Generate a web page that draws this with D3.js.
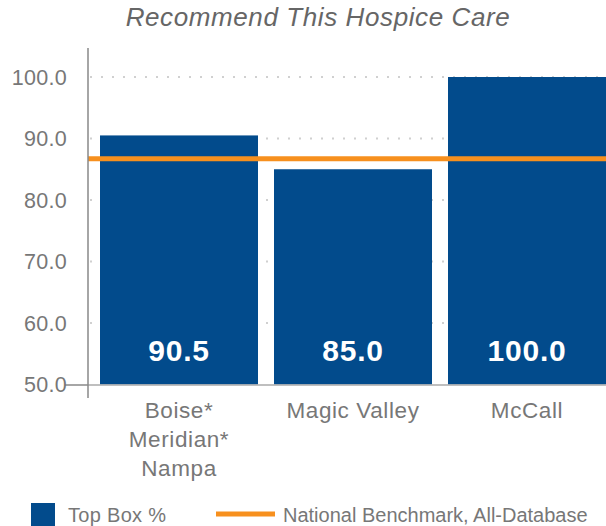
<!DOCTYPE html>
<html>
<head>
<meta charset="utf-8">
<script src="https://cdn.jsdelivr.net/npm/d3@7"></script>
<style>
  body { margin: 0; background: #fff; }
  text { font-family: "Liberation Sans", Arial, sans-serif; }
</style>
</head>
<body>
<script>
"use strict";

// chart data
var categories = [["Boise*", "Meridian*", "Nampa"], ["Magic Valley"], ["McCall"]];
var topBox = [90.5, 85.0, 100.0];
var benchmark = 86.7;
var yTicks = [50, 60, 70, 80, 90, 100];
var title = "Recommend This Hospice Care";
var legendLabels = ["Top Box %", "National Benchmark, All-Database"];

var width = 606, height = 526;
var barColor = "#024b8c", lineColor = "#f7901e", textColor = "#777";

var svg = d3.select("body").append("svg")
    .attr("width", width)
    .attr("height", height);

var x = d3.scaleBand().domain(d3.range(categories.length))
    .range([92, 614]).paddingInner(16 / 174).paddingOuter(0.046);
var y = d3.scaleLinear().domain([50, 100]).range([384.5, 77]);

// title
svg.append("text")
    .attr("x", 318).attr("y", 26)
    .attr("text-anchor", "middle")
    .style("font-size", "26px")
    .style("font-style", "italic")
    .style("letter-spacing", "0.6px")
    .style("fill", "#666")
    .text(title);

// dotted gridlines
svg.append("g").selectAll("line")
    .data(yTicks.slice(1))
    .enter().append("line")
    .attr("x1", 90).attr("x2", width)
    .attr("y1", d => y(d)).attr("y2", d => y(d))
    .style("stroke", "#d0d0d0")
    .style("stroke-width", 2)
    .style("stroke-dasharray", "2,9");

// bars
svg.append("g").selectAll("rect")
    .data(topBox)
    .enter().append("rect")
    .attr("x", (d, i) => x(i))
    .attr("width", x.bandwidth())
    .attr("y", d => y(d))
    .attr("height", d => y(50) - y(d))
    .style("fill", barColor);

// value labels
svg.append("g").selectAll("text")
    .data(topBox)
    .enter().append("text")
    .attr("x", (d, i) => x(i) + x.bandwidth() / 2)
    .attr("y", 361)
    .attr("text-anchor", "middle")
    .style("font-size", "30px")
    .style("font-weight", "bold")
    .style("letter-spacing", "0.8px")
    .style("fill", "#fff")
    .text(d => d3.format(".1f")(d));

// benchmark line
svg.append("line")
    .attr("x1", 88).attr("x2", width)
    .attr("y1", y(benchmark)).attr("y2", y(benchmark))
    .style("stroke", lineColor)
    .style("stroke-width", 5);

// axes
svg.append("line")
    .attr("x1", 88).attr("x2", width)
    .attr("y1", 385).attr("y2", 385)
    .style("stroke", "#aaa").style("stroke-width", 1.5);
svg.append("line")
    .attr("x1", 88).attr("x2", 88)
    .attr("y1", 48).attr("y2", 398)
    .style("stroke", "#888").style("stroke-width", 1.5);
svg.append("line")
    .attr("x1", 65).attr("x2", 88)
    .attr("y1", 385).attr("y2", 385)
    .style("stroke", "#888").style("stroke-width", 1.5);

// y tick labels
svg.append("g").selectAll("text")
    .data(yTicks)
    .enter().append("text")
    .attr("x", 67)
    .attr("y", d => y(d))
    .attr("dy", "0.36em")
    .attr("text-anchor", "end")
    .style("font-size", "21.5px")
    .style("letter-spacing", "0.3px")
    .style("fill", textColor)
    .text(d => d3.format(".1f")(d));

// category labels
var cat = svg.append("g").selectAll("text")
    .data(categories)
    .enter().append("text")
    .attr("text-anchor", "middle")
    .style("font-size", "22.5px")
    .style("letter-spacing", "0.6px")
    .style("fill", textColor);
cat.selectAll("tspan")
    .data((d, i) => d.map(s => [s, i]))
    .enter().append("tspan")
    .attr("x", d => x(d[1]) + x.bandwidth() / 2)
    .attr("y", (d, j) => 418 + j * 29)
    .text(d => d[0]);

// legend
var legend = svg.append("g");
legend.append("rect")
    .attr("x", 31).attr("y", 503)
    .attr("width", 24).attr("height", 24)
    .style("fill", barColor);
legend.append("text")
    .attr("x", 68).attr("y", 522)
    .style("font-size", "20px")
    .style("letter-spacing", "0.3px")
    .style("fill", textColor)
    .text(legendLabels[0]);
legend.append("line")
    .attr("x1", 216).attr("x2", 275)
    .attr("y1", 514).attr("y2", 514)
    .style("stroke", lineColor)
    .style("stroke-width", 5);
legend.append("text")
    .attr("x", 283).attr("y", 522)
    .style("font-size", "20px")
    .style("fill", textColor)
    .text(legendLabels[1]);
</script>
</body>
</html>
